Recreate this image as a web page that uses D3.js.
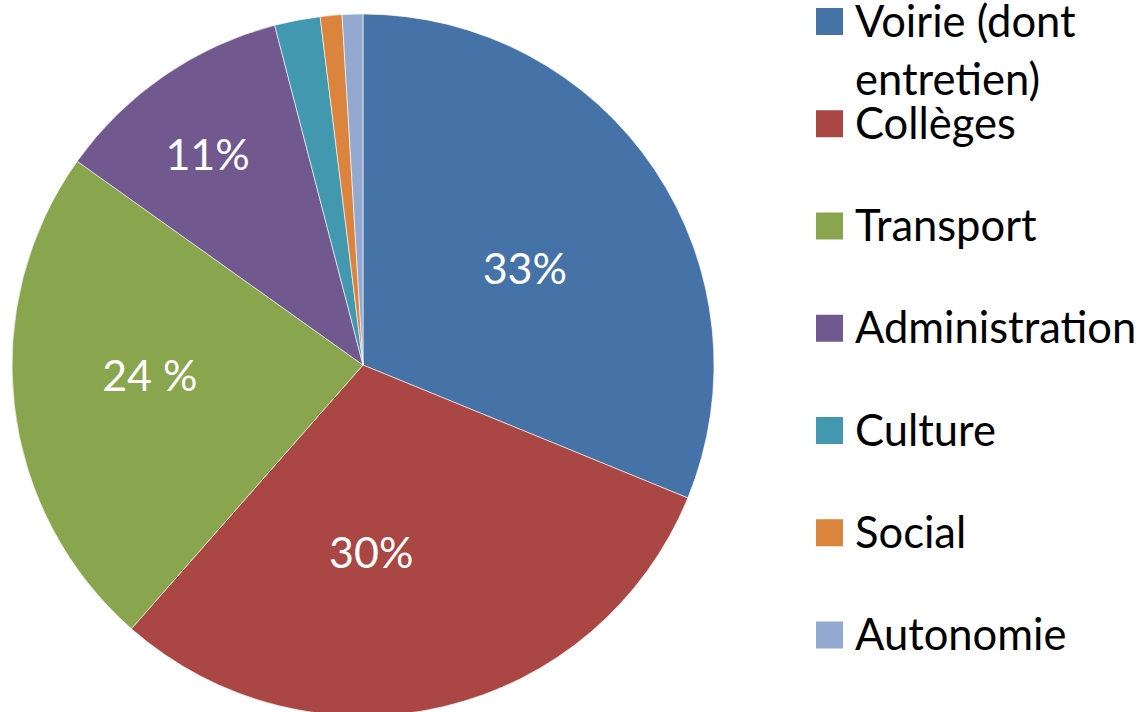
<!DOCTYPE html>
<html>
<head>
<meta charset="utf-8">
<script src="https://cdn.jsdelivr.net/npm/d3@7"></script>
<style>
    body { margin: 0; background: #fff; }
    svg { display: block; }
</style>
</head>
<body>
<svg class="pieChart"></svg>
<script>
// values (share of the whole, in %)
const categories = ["Voirie (dont entretien)", "Collèges", "Transport", "Administration", "Culture", "Social", "Autonomie"];
const legendLines = [["Voirie (dont", "entretien)"], ["Collèges"], ["Transport"], ["Administration"], ["Culture"], ["Social"], ["Autonomie"]];
const shares = [31.2, 30.3, 23.4, 11.1, 2.1, 1.0, 0.95];
const sliceLabels = ["33%", "30%", "24 %", "11%", "", "", ""];
const colors = ["#4572A7", "#AA4643", "#89A54E", "#71588F", "#4198AF", "#DB843D", "#93A9CF"];

document.addEventListener('DOMContentLoaded', function(){
    drawPie();
})

function drawPie(){
    const width = 1148, height = 712;
    const cx = 363, cy = 365, radius = 351;

    const svg = d3.select(".pieChart")
        .attr("width", width)
        .attr("height", height);

    const data = categories.map((c, i) => ({name: c, value: shares[i], label: sliceLabels[i], color: colors[i]}));

    const pie = d3.pie()
        .sort(null)
        .value(d => d.value);

    const arc = d3.arc().innerRadius(0).outerRadius(radius);
    const labelArc = d3.arc().innerRadius(radius * 0.6).outerRadius(radius * 0.6);

    const g = svg.append("g")
        .attr("transform", `translate(${cx},${cy})`);

    const arcs = pie(data);

    g.selectAll("path")
        .data(arcs)
        .enter()
        .append("path")
        .attr("d", arc)
        .attr("fill", d => d.data.color)
        .attr("stroke", "#fff")
        .attr("stroke-width", 0.6);

    // the labels in the original were dragged a little off the centroid
    const nudge = [[-13, 21], [-40, -17], [-4, -14], [-36, -37], [0, 0], [0, 0], [0, 0]];

    g.selectAll("text.slice")
        .data(arcs)
        .enter()
        .append("text")
        .attr("class", "slice")
        .attr("x", (d, i) => labelArc.centroid(d)[0] + nudge[i][0])
        .attr("y", (d, i) => labelArc.centroid(d)[1] + nudge[i][1])
        .attr("dy", "0.36em")
        .attr("text-anchor", "middle")
        .style("font-family", "Lato")
        .style("font-size", "43px")
        .style("fill", "#fff")
        .text(d => d.data.label);

    // legend
    const legendY = d3.scaleLinear()
        .domain([0, categories.length - 1])
        .range([21.5, 635]);

    const legend = svg.append("g")
        .selectAll("g")
        .data(data)
        .enter()
        .append("g")
        .attr("transform", (d, i) => `translate(816,${legendY(i)})`);

    legend.append("rect")
        .attr("x", 0)
        .attr("y", -13.5)
        .attr("width", 27)
        .attr("height", 27)
        .attr("fill", d => d.color);

    const txt = legend.append("text")
        .attr("x", 39)
        .attr("y", 15)
        .style("font-family", "Lato")
        .style("font-size", "43.5px")
        .style("fill", "#000");

    txt.selectAll("tspan")
        .data((d, i) => legendLines[i])
        .enter()
        .append("tspan")
        .attr("x", 39)
        .attr("dy", (d, j) => j === 0 ? 0 : 58)
        .text(d => d);
}
</script>
</body>
</html>
